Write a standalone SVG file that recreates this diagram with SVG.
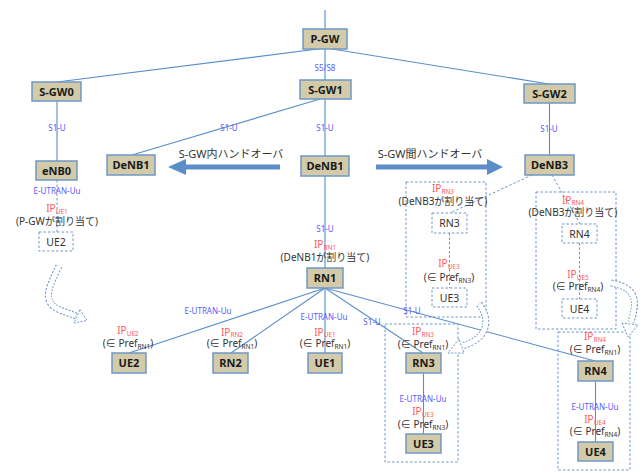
<svg xmlns="http://www.w3.org/2000/svg" width="641" height="473" viewBox="0 0 641 473">
<style>
text{font-family:"Noto Sans","Noto Sans CJK JP",sans-serif;text-anchor:middle}
.node rect{fill:#d2caa8;stroke:#6f98c6;stroke-width:1.5}
.node text{font-size:11px;font-weight:bold;fill:#1a1a1a}
.dnode rect{fill:#fff;stroke:#6f98c6;stroke-width:1;stroke-dasharray:2.5,2}
.dnode text{font-size:10.5px;fill:#333}
.grp{fill:none;stroke:#6f98c6;stroke-width:1;stroke-dasharray:2.5,2}
.ln{stroke:#5b8ec9;stroke-width:1.1;fill:none}
.main{stroke:#9fc1e4;stroke-width:2;fill:none}
.dl{stroke:#6f98c6;stroke-width:1;stroke-dasharray:2.5,2;fill:none}
.bl{font-size:8px;fill:#5a5aff}
.ip{font-size:10px;fill:#ff5a5a}
.ip tspan{font-size:6.5px}
.gt{font-size:10px;fill:#333}
.gt tspan.s{font-size:6.5px}
.ho{font-size:11px;fill:#333}
.big{fill:#5b8ec9}
.ha{fill:#fff;stroke:#6f98c6;stroke-width:1;stroke-dasharray:2,1.5}
.hb{fill:none;stroke:#6f98c6;stroke-width:7;stroke-dasharray:2,1.5}
.hc{fill:none;stroke:#fff;stroke-width:5}
</style>

<g id="groups">
<rect class="grp" x="406" y="182" width="80" height="135"/>
<rect class="grp" x="536" y="192" width="80" height="137"/>
<rect class="grp" x="385" y="324" width="73" height="138"/>
<rect class="grp" x="558" y="332" width="72" height="138"/>
</g>

<g id="connectors">
<line class="main" x1="325" y1="10" x2="325" y2="353"/>
<line class="ln" x1="318" y1="49" x2="57" y2="82"/>
<line class="ln" x1="332" y1="49" x2="549" y2="84"/>
<line class="ln" x1="57" y1="101" x2="57" y2="161"/>
<line class="ln" x1="320" y1="99" x2="132" y2="155"/>
<line class="ln" x1="549.5" y1="103" x2="549.5" y2="155"/>
<line class="ln" x1="325" y1="288" x2="129" y2="353"/>
<line class="ln" x1="325" y1="288" x2="231" y2="353"/>
<line class="ln" x1="325" y1="288" x2="423" y2="353"/>
<line class="ln" x1="325" y1="288" x2="595" y2="361"/>
<line class="ln" x1="423.5" y1="373" x2="423.5" y2="434"/>
<line class="ln" x1="595.5" y1="381" x2="595.5" y2="442"/>
<line class="dl" x1="57" y1="180" x2="57" y2="232"/>
<line class="dl" x1="449.5" y1="233" x2="449.5" y2="288"/>
<line class="dl" x1="579.5" y1="243" x2="579.5" y2="299"/>
<line class="dl" x1="532" y1="175" x2="450" y2="213"/>
<line class="dl" x1="552" y1="175" x2="580" y2="224"/>
</g>

<g id="handover-arrows">
<rect class="big" x="186" y="164.5" width="94" height="5"/>
<polygon class="big" points="186,159 168,167 186,175"/>
<text class="ho" x="231" y="158">S-GW内ハンドオーバ</text>
<rect class="big" x="376" y="164.5" width="111" height="5"/>
<polygon class="big" points="487,159 503,167 487,175"/>
<text class="ho" x="430" y="158">S-GW間ハンドオーバ</text>
</g>

<g id="move-arrows">
<path class="hb" d="M59,266 C50,285 40,302 60,310 L76,316"/>
<path class="hc" d="M59,266 C50,285 40,302 60,310 L76,316"/>
<polygon class="ha" points="80,309.5 87,320.5 74,323"/>
<path class="hb" d="M479,304 C490,318 490,338 462,346"/>
<path class="hc" d="M479,304 C490,318 490,338 462,346"/>
<polygon class="ha" points="459,339 448,353 464,353"/>
<path class="hb" d="M611,283 C640,288 636,305 631,322"/>
<path class="hc" d="M611,283 C640,288 636,305 631,322"/>
<polygon class="ha" points="622,323 628,337 638,325"/>
</g>

<g id="P-GW" class="node"><rect x="303" y="29" width="44" height="20"/><text x="325" y="43">P-GW</text></g>
<g id="S-GW0" class="node"><rect x="32" y="82" width="49" height="19"/><text x="56.5" y="96">S-GW0</text></g>
<g id="S-GW1" class="node"><rect x="300" y="80" width="51" height="19"/><text x="325.5" y="94">S-GW1</text></g>
<g id="S-GW2" class="node"><rect x="524" y="84" width="51" height="19"/><text x="549.5" y="98">S-GW2</text></g>
<g id="eNB0" class="node"><rect x="36" y="161" width="41" height="19"/><text x="56.5" y="175">eNB0</text></g>
<g id="DeNB1-left" class="node"><rect x="107" y="155" width="48" height="20"/><text x="131" y="169">DeNB1</text></g>
<g id="DeNB1" class="node"><rect x="301" y="156" width="48" height="20"/><text x="325" y="170">DeNB1</text></g>
<g id="DeNB3" class="node"><rect x="525" y="155" width="49" height="20"/><text x="549.5" y="169">DeNB3</text></g>
<g id="RN1" class="node"><rect x="307" y="268" width="36" height="20"/><text x="325" y="282">RN1</text></g>
<g id="UE2" class="node"><rect x="112" y="353" width="34" height="20"/><text x="129" y="367">UE2</text></g>
<g id="RN2" class="node"><rect x="213" y="353" width="35" height="20"/><text x="230.5" y="367">RN2</text></g>
<g id="UE1" class="node"><rect x="308" y="353" width="34" height="20"/><text x="325" y="367">UE1</text></g>
<g id="RN3" class="node"><rect x="406" y="353" width="35" height="20"/><text x="423.5" y="367">RN3</text></g>
<g id="UE3" class="node"><rect x="406" y="434" width="35" height="19"/><text x="423.5" y="448">UE3</text></g>
<g id="RN4" class="node"><rect x="578" y="361" width="35" height="20"/><text x="595.5" y="375">RN4</text></g>
<g id="UE4" class="node"><rect x="578" y="442" width="35" height="19"/><text x="595.5" y="456">UE4</text></g>

<g id="UE2-old" class="dnode"><rect x="39" y="232" width="34" height="19"/><text x="56" y="246">UE2</text></g>
<g id="RN3-old" class="dnode"><rect x="432" y="213" width="35" height="20"/><text x="449.5" y="227">RN3</text></g>
<g id="UE3-old" class="dnode"><rect x="432" y="288" width="35" height="19"/><text x="449.5" y="302">UE3</text></g>
<g id="RN4-old" class="dnode"><rect x="562" y="224" width="35" height="19"/><text x="579.5" y="238">RN4</text></g>
<g id="UE4-old" class="dnode"><rect x="562" y="299" width="35" height="19"/><text x="579.5" y="313">UE4</text></g>

<g id="labels">
<text class="bl" x="325" y="71">S5/S8</text>
<text class="bl" x="57" y="131">S1-U</text>
<text class="bl" x="229" y="131">S1-U</text>
<text class="bl" x="325" y="131">S1-U</text>
<text class="bl" x="549" y="132">S1-U</text>
<text class="bl" x="57" y="194">E-UTRAN-Uu</text>
<text class="ip" x="57" y="212">IP<tspan dy="1.5">UE1</tspan></text>
<text class="gt" x="57" y="224.5">(P-GWが割り当て)</text>
<text class="bl" x="325" y="232">S1-U</text>
<text class="ip" x="325" y="248">IP<tspan dy="1.5">RN1</tspan></text>
<text class="gt" x="325" y="260.5">(DeNB1が割り当て)</text>
<text class="bl" x="208" y="314">E-UTRAN-Uu</text>
<text class="bl" x="324" y="320">E-UTRAN-Uu</text>
<text class="ip" x="128" y="334">IP<tspan dy="1.5">UE2</tspan></text>
<text class="gt" x="128" y="346.5">(∈ Pref<tspan class="s" dy="2">RN1</tspan><tspan dy="-2">)</tspan></text>
<text class="ip" x="232" y="335.5">IP<tspan dy="1.5">RN2</tspan></text>
<text class="gt" x="232" y="347">(∈ Pref<tspan class="s" dy="2">RN1</tspan><tspan dy="-2">)</tspan></text>
<text class="ip" x="325" y="335.5">IP<tspan dy="1.5">UE1</tspan></text>
<text class="gt" x="325" y="347">(∈ Pref<tspan class="s" dy="2">RN1</tspan><tspan dy="-2">)</tspan></text>
<text class="bl" x="372" y="325">S1-U</text>
<text class="bl" x="412" y="314">S1-U</text>
<text class="ip" x="423" y="335">IP<tspan dy="1.5">RN3</tspan></text>
<text class="gt" x="423" y="347.5">(∈ Pref<tspan class="s" dy="2">RN1</tspan><tspan dy="-2">)</tspan></text>
<text class="bl" x="423" y="402">E-UTRAN-Uu</text>
<text class="ip" x="423" y="415">IP<tspan dy="1.5">UE3</tspan></text>
<text class="gt" x="423" y="427.5">(∈ Pref<tspan class="s" dy="2">RN3</tspan><tspan dy="-2">)</tspan></text>
<text class="ip" x="595" y="340">IP<tspan dy="1.5">RN4</tspan></text>
<text class="gt" x="595" y="352.5">(∈ Pref<tspan class="s" dy="2">RN1</tspan><tspan dy="-2">)</tspan></text>
<text class="bl" x="595" y="410">E-UTRAN-Uu</text>
<text class="ip" x="595" y="423">IP<tspan dy="1.5">UE4</tspan></text>
<text class="gt" x="595" y="435">(∈ Pref<tspan class="s" dy="2">RN4</tspan><tspan dy="-2">)</tspan></text>
<text class="ip" x="443" y="192">IP<tspan dy="1.5">RN3</tspan></text>
<text class="gt" x="443" y="205">(DeNB3が割り当て)</text>
<text class="ip" x="449" y="267">IP<tspan dy="1.5">UE3</tspan></text>
<text class="gt" x="449" y="281">(∈ Pref<tspan class="s" dy="2">RN3</tspan><tspan dy="-2">)</tspan></text>
<text class="ip" x="573" y="203.5">IP<tspan dy="1.5">RN4</tspan></text>
<text class="gt" x="573" y="216">(DeNB3が割り当て)</text>
<text class="ip" x="578" y="278">IP<tspan dy="1.5">UE5</tspan></text>
<text class="gt" x="578" y="290">(∈ Pref<tspan class="s" dy="2">RN4</tspan><tspan dy="-2">)</tspan></text>
</g>
</svg>
